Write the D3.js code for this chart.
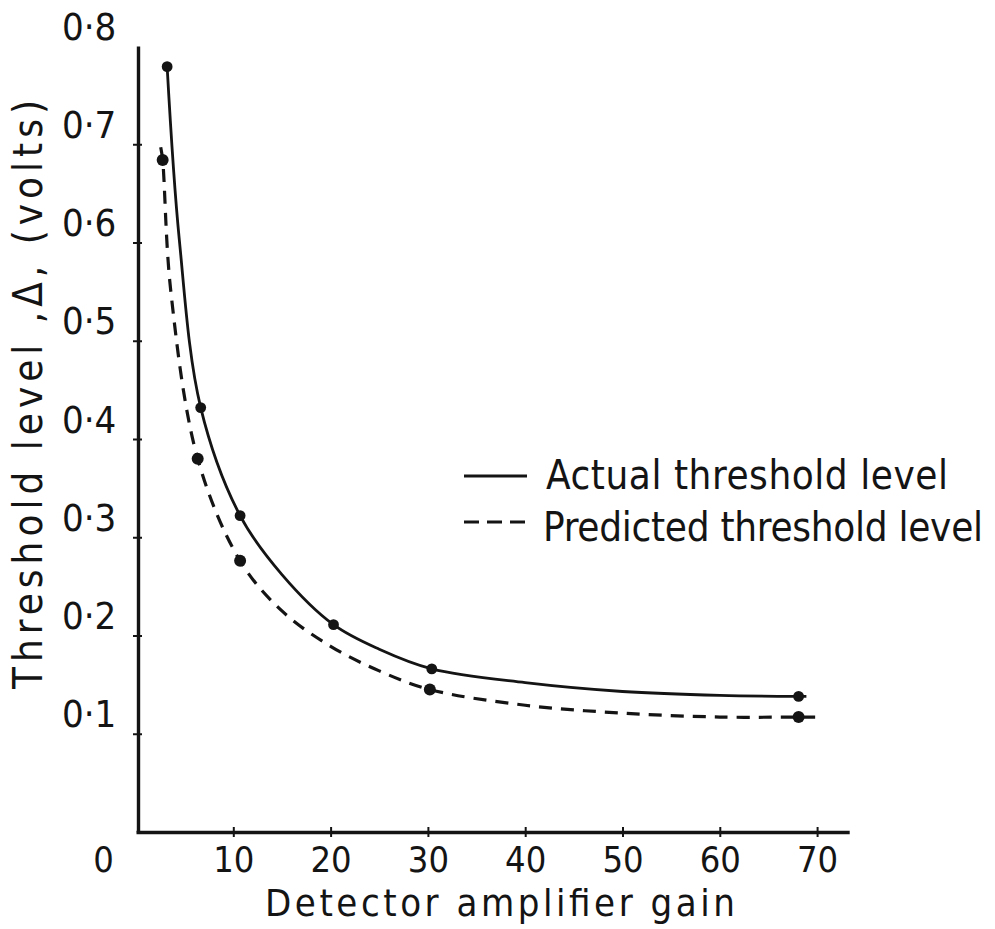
<!DOCTYPE html>
<html>
<head>
<meta charset="utf-8">
<script src="https://cdn.jsdelivr.net/npm/d3@7/dist/d3.min.js"></script>
<style>
    body { margin: 0; background: #fff; }
    svg text {
        font-family: "Liberation Sans Narrow", "DejaVu Sans Condensed", "DejaVu Sans", sans-serif;
        fill: #141414;
    }
</style>
</head>
<body>
<svg id="canvas"></svg>
<script>
const GAIN_ACTUAL = [3.2, 6.65, 10.7, 20.3, 30.4, 68.1];
const VOLTS_ACTUAL = [0.779, 0.432, 0.322, 0.211, 0.166, 0.138];
const GAIN_PREDICTED = [2.74, 6.34, 10.7, 30.2, 68.1];
const VOLTS_PREDICTED = [0.684, 0.380, 0.276, 0.145, 0.117];

// Hand-drawn curves
const ACTUAL_CURVE_GAIN = [3.2, 4.45, 6.65, 10.7, 15, 20.3, 25, 30.4, 40, 50, 60, 68.1, 68.9];
const ACTUAL_CURVE_VOLTS = [0.779, 0.603, 0.432, 0.322, 0.262, 0.211, 0.186, 0.166, 0.152, 0.143, 0.139, 0.138, 0.138];
const PREDICTED_CURVE_GAIN = [2.54, 2.74, 3.56, 6.34, 10.7, 15, 20, 25, 30.2, 40, 50, 60, 68.1, 69.8];
const PREDICTED_CURVE_VOLTS = [0.697, 0.684, 0.552, 0.380, 0.276, 0.225, 0.189, 0.164, 0.145, 0.129, 0.121, 0.117, 0.117, 0.117];

const GAIN_TICKS = [0, 10, 20, 30, 40, 50, 60, 70];
const VOLT_TICKS = [0.1, 0.2, 0.3, 0.4, 0.5, 0.6, 0.7, 0.8];
const LEGEND_LABELS = ["Actual threshold level", "Predicted threshold level"];

const X_TITLE = "Detector amplifier gain";
const Y_TITLE = "Threshold level ,\u0394, (volts)";

const width = 995;
const height = 929;
const ink = "#141414";

const canvas = d3.select("#canvas")
    .attr("width", width)
    .attr("height", height);

// scales: origin of the hand-drawn frame
const xScale = d3.scaleLinear()
    .domain([0, 73.3])
    .range([136, 849.2]);
const yScale = d3.scaleLinear()
    .domain([0, 0.8])
    .range([832, 46]);

const fmtVolt = d => d3.format(".1f")(d).replace(".", "\u00b7");

//X axis
const xAxis = d3.axisBottom(xScale)
    .tickValues(GAIN_TICKS)
    .tickSizeOuter(0)
    .tickFormat(d3.format("d"));

const gx = canvas.append("g")
    .attr("transform", `translate(0, ${yScale(0)})`)
    .call(xAxis)
    .attr("font-family", null);
gx.select(".domain").attr("stroke", ink).attr("stroke-width", 3.4);
gx.selectAll(".tick line")
    .attr("stroke", ink)
    .attr("stroke-width", 2)
    .attr("y1", -5)
    .attr("y2", 5)
    .attr("display", d => d === 0 ? "none" : null);
gx.selectAll(".tick text")
    .attr("y", 40)
    .attr("dy", 0)
    .attr("dx", d => d === 0 ? -33 : 0)
    .attr("font-size", 36)
    .attr("fill", ink);

//Y axis
const yAxis = d3.axisLeft(yScale)
    .tickValues(VOLT_TICKS)
    .tickSizeOuter(0)
    .tickFormat(fmtVolt);

const gy = canvas.append("g")
    .attr("transform", `translate(${xScale(0) + 2}, 0)`)
    .call(yAxis)
    .attr("font-family", null);
gy.select(".domain").attr("stroke", ink).attr("stroke-width", 3.4);
gy.selectAll(".tick line")
    .attr("stroke", ink)
    .attr("stroke-width", 2)
    .attr("x1", -5)
    .attr("x2", 4)
    .attr("display", d => d === 0.8 ? "none" : null);
gy.selectAll(".tick text")
    .attr("text-anchor", "start")
    .attr("x", 62 - xScale(0) - 2)
    .attr("dy", -7)
    .attr("font-size", 38)
    .attr("fill", ink);

//Axis titles
canvas.append("text")
    .attr("x", 265)
    .attr("y", 916)
    .attr("font-size", 38)
    .attr("textLength", 470)
    .text(X_TITLE);

canvas.append("text")
    .attr("transform", "translate(42, 689) rotate(-90)")
    .attr("font-size", 40)
    .attr("textLength", 589)
    .text(Y_TITLE);

//Curves
const line = d3.line()
    .x(d => xScale(d[0]))
    .y(d => yScale(d[1]))
    .curve(d3.curveCatmullRom.alpha(0.5));

const actualCurve = ACTUAL_CURVE_GAIN.map((g, i) => [g, ACTUAL_CURVE_VOLTS[i]]);
const predictedCurve = PREDICTED_CURVE_GAIN.map((g, i) => [g, PREDICTED_CURVE_VOLTS[i]]);

canvas.append("path")
    .datum(actualCurve)
    .attr("d", line)
    .attr("fill", "none")
    .attr("stroke", ink)
    .attr("stroke-width", 2.8);

canvas.append("path")
    .datum(predictedCurve)
    .attr("d", line)
    .attr("fill", "none")
    .attr("stroke", ink)
    .attr("stroke-width", 3.2)
    .attr("stroke-dasharray", "13 9");

//Dots
canvas.selectAll(".dot-actual")
    .data(GAIN_ACTUAL)
    .enter()
    .append("circle")
    .attr("class", "dot-actual")
    .attr("cx", d => xScale(d))
    .attr("cy", (d, i) => yScale(VOLTS_ACTUAL[i]))
    .attr("r", 5.4)
    .attr("fill", ink);

canvas.selectAll(".dot-predicted")
    .data(GAIN_PREDICTED)
    .enter()
    .append("circle")
    .attr("class", "dot-predicted")
    .attr("cx", d => xScale(d))
    .attr("cy", (d, i) => yScale(VOLTS_PREDICTED[i]))
    .attr("r", 6)
    .attr("fill", ink);

//Legend
const legend = canvas.append("g")
    .attr("transform", "translate(464, 476)");

legend.selectAll("line")
    .data(LEGEND_LABELS)
    .enter()
    .append("line")
    .attr("x1", 0)
    .attr("x2", 63)
    .attr("y1", (d, i) => i * 46)
    .attr("y2", (d, i) => i * 46)
    .attr("stroke", ink)
    .attr("stroke-width", (d, i) => i === 0 ? 2.8 : 3.2)
    .attr("stroke-dasharray", (d, i) => i === 0 ? null : "15 8");

legend.selectAll("text")
    .data(LEGEND_LABELS)
    .enter()
    .append("text")
    .attr("x", (d, i) => i === 0 ? 82 : 79)
    .attr("y", (d, i) => 13 + i * 52)
    .attr("font-size", 40)
    .attr("textLength", (d, i) => i === 0 ? 402 : 440)
    .text(d => d);
</script>
</body>
</html>
